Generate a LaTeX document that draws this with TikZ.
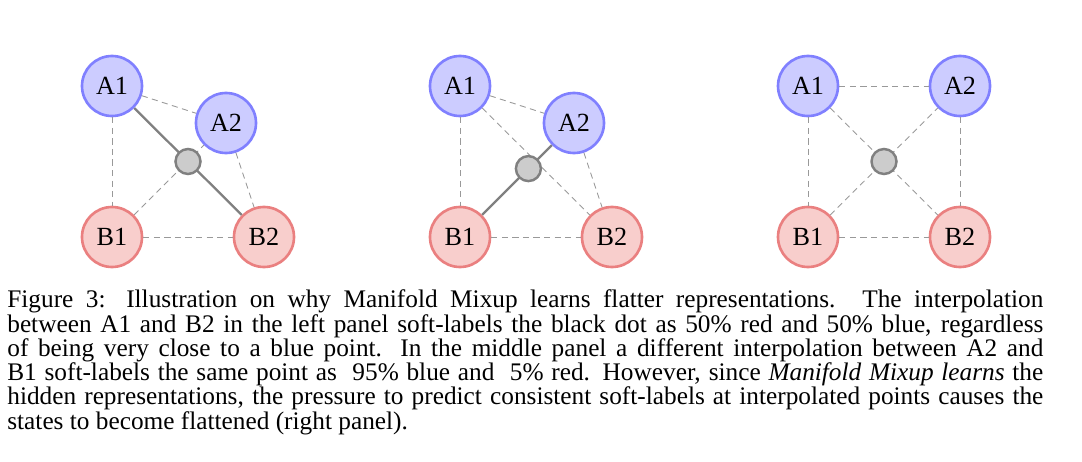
\documentclass[tikz,border=0pt]{standalone}
\usepackage{fontspec}
\setmainfont{Liberation Serif}
\usetikzlibrary{positioning,calc}

\definecolor{ptblue}{RGB}{204,204,255}
\definecolor{ptblueline}{RGB}{128,128,255}
\definecolor{ptred}{RGB}{248,206,204}
\definecolor{ptredline}{RGB}{234,128,128}
\definecolor{ptgray}{RGB}{204,204,204}
\definecolor{ptgrayline}{RGB}{128,128,128}

\tikzset{
  apoint/.style={circle,draw=ptblueline,fill=ptblue,line width=1.5pt,minimum size=1.2cm,inner sep=0pt,font=\fontsize{14.9}{18}\selectfont},
  bpoint/.style={circle,draw=ptredline,fill=ptred,line width=1.5pt,minimum size=1.2cm,inner sep=0pt,font=\fontsize{14.9}{18}\selectfont},
  mixpoint/.style={circle,draw=ptgrayline,fill=ptgray,line width=1.4pt,minimum size=0.5cm,inner sep=0pt},
  soft/.style={draw=black!40,line width=0.5pt,dash pattern=on 3.5pt off 2.5pt},
  hard/.style={draw=ptgrayline,line width=1.3pt}
}

\begin{document}
\begin{tikzpicture}
\useasboundingbox (0,0) rectangle (21.64,-9.24);

% left panel
\begin{scope}
    \node (la1) [apoint] at (2.24,-1.72) {A1};
    \node (la2) [apoint] at (4.52,-2.46) {A2};
    \node (lb1) [bpoint] at (2.24,-4.74) {B1};
    \node (lb2) [bpoint] at (5.28,-4.74) {B2};
    \path (la1) edge[soft] (la2);
    \path (la1) edge[soft] (lb1);
    \path (lb1) edge[soft] (lb2);
    \path (la2) edge[soft] (lb2);
    \path (lb1) edge[soft] (la2);
    \path (la1) edge[hard] (lb2);
    \node (lm) [mixpoint] at ($(la1)!0.5!(lb2)$) {};
\end{scope}

% middle panel
\begin{scope}[xshift=6.96cm]
    \node (ma1) [apoint] at (2.24,-1.72) {A1};
    \node (ma2) [apoint] at (4.52,-2.46) {A2};
    \node (mb1) [bpoint] at (2.24,-4.74) {B1};
    \node (mb2) [bpoint] at (5.28,-4.74) {B2};
    \path (ma1) edge[soft] (ma2);
    \path (ma1) edge[soft] (mb1);
    \path (mb1) edge[soft] (mb2);
    \path (ma2) edge[soft] (mb2);
    \path (ma1) edge[soft] (mb2);
    \path (mb1) edge[hard] (ma2);
    \node (mm) [mixpoint] at ($(mb1)!0.6!(ma2)$) {};
\end{scope}

% right panel
\begin{scope}[xshift=13.92cm]
    \node (ra1) [apoint] at (2.24,-1.72) {A1};
    \node (ra2) [apoint] at (5.28,-1.72) {A2};
    \node (rb1) [bpoint] at (2.24,-4.74) {B1};
    \node (rb2) [bpoint] at (5.28,-4.74) {B2};
    \path (ra1) edge[soft] (ra2);
    \path (ra1) edge[soft] (rb1);
    \path (rb1) edge[soft] (rb2);
    \path (ra2) edge[soft] (rb2);
    \path (ra1) edge[soft] (rb2);
    \path (rb1) edge[soft] (ra2);
    \node (rm) [mixpoint] at ($(ra1)!0.5!(rb2)$) {};
\end{scope}

\node (cap) [anchor=base west,text width=20.72cm,inner sep=0pt,align=justify,
  font=\fontsize{14.4}{13.83}\selectfont] at (0.14,-6.154)
  {\hyphenpenalty=10000 \exhyphenpenalty=10000 \lineskiplimit=-20pt
   Figure 3: Illustration on why Manifold Mixup learns flatter representations. The interpolation\linebreak
   between A1 and B2 in the left panel soft-labels the black dot as 50\% red and 50\% blue, regardless\linebreak
   of being very close to a blue point. In the middle panel a different interpolation between A2 and\linebreak
   B1 soft-labels the same point as~ 95\% blue and~ 5\% red. However, since \emph{Manifold Mixup learns} the\linebreak
   hidden representations, the pressure to predict consistent soft-labels at interpolated points causes the\linebreak
   states to become flattened (right panel).};
\end{tikzpicture}
\end{document}
